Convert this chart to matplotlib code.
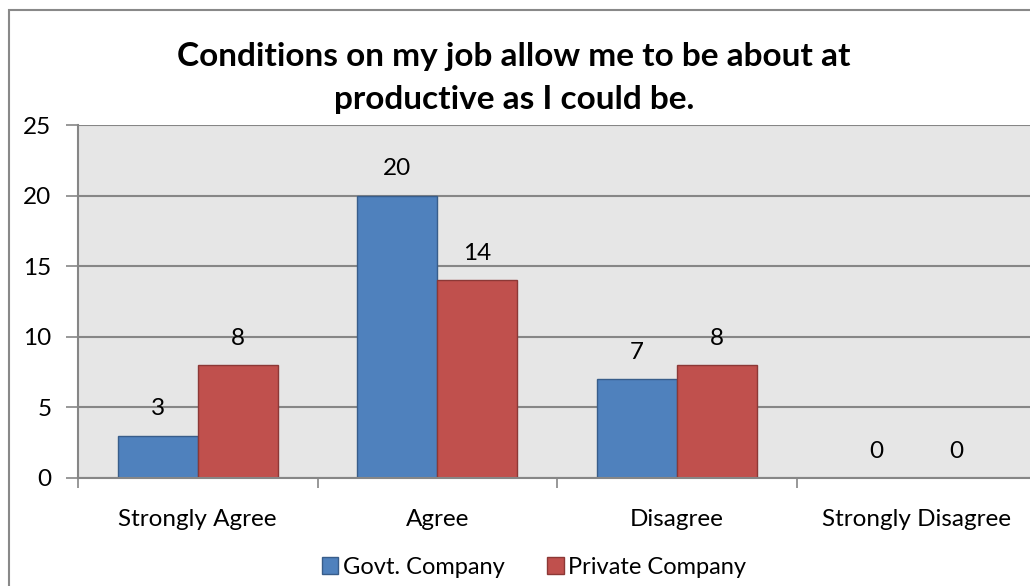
import numpy as np
import matplotlib.pyplot as plt
from matplotlib.patches import Rectangle

plt.rcParams['font.family'] = ['Lato', 'DejaVu Sans']

categories = ['Strongly Agree', 'Agree', 'Disagree', 'Strongly Disagree']
govt = [3, 20, 7, 0]
private = [8, 14, 8, 0]
series_names = ['Govt. Company', 'Private Company']
yticks = [0, 5, 10, 15, 20, 25]

fig = plt.figure(figsize=(10.30, 5.86), dpi=100)

# outer chart border
fig.patches.append(Rectangle((9 / 1030, -0.1), 1.2, 1 - 10 / 586 + 0.1,
                             transform=fig.transFigure, fill=False,
                             edgecolor='#898989', lw=1.5))

ax = fig.add_axes([78 / 1030, 1 - 478 / 586, 958 / 1030, 353 / 586])
ax.set_facecolor('#e6e6e6')

x = np.arange(len(categories))
w = 1 / 3
b1 = ax.bar(x - w / 2, govt, w, color='#4f81bd', edgecolor='#385d8a', lw=1,
            label=series_names[0])
b2 = ax.bar(x + w / 2, private, w, color='#c0504d', edgecolor='#8c3836', lw=1,
            label=series_names[1])

for bars, vals in [(b1, govt), (b2, private)]:
    for r, v in zip(bars, vals):
        ax.text(r.get_x() + r.get_width() / 2, v + 1.9, str(v),
                ha='center', va='center', fontsize=17.5)

ax.set_xlim(-0.5, len(categories) - 0.5)
ax.set_ylim(0, 25)
ax.set_yticks(yticks)
ax.yaxis.grid(True, color='#868686', lw=1.5)
ax.set_axisbelow(True)

ax.set_xticks(x)
ax.set_xticklabels(categories, fontsize=17.5)
ax.tick_params(axis='x', length=0, pad=22)
ax.set_xticks(np.arange(len(categories) + 1) - 0.5, minor=True)
ax.tick_params(axis='x', which='minor', length=7, color='#868686', width=1.2)
ax.tick_params(axis='y', length=9, color='#868686', width=1.2, labelsize=17.5, pad=10)

for s in ['top', 'right']:
    ax.spines[s].set_visible(False)
for s in ['left', 'bottom']:
    ax.spines[s].set_color('#868686')
    ax.spines[s].set_linewidth(1.5)

fig.text(514 / 1030, 1 - 78 / 586,
         'Conditions on my job allow me to be about at\nproductive as I could be.',
         ha='center', va='center', fontsize=24, fontweight='bold', linespacing=1.55)

fig.legend(handles=[b1, b2], labels=series_names, loc='center',
           bbox_to_anchor=(534 / 1030, 1 - 567 / 586), ncol=2, frameon=False,
           fontsize=17, handlelength=0.7, handleheight=0.7, handletextpad=0.2,
           columnspacing=1.8)

fig.savefig('out.png', dpi=100)
